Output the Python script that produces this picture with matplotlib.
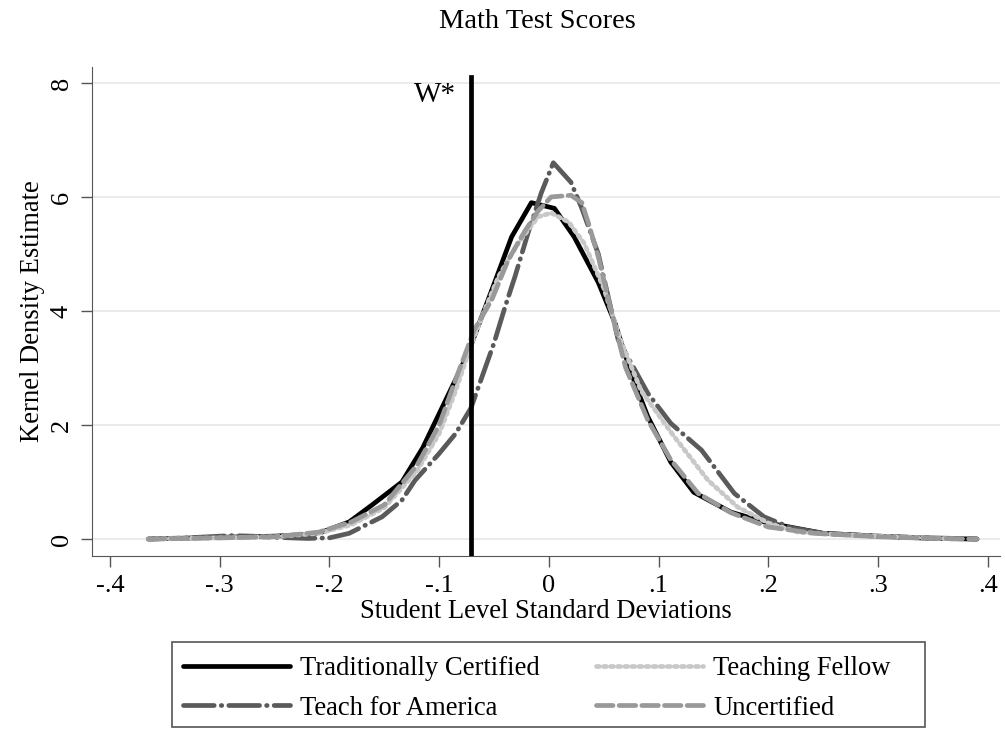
import matplotlib
matplotlib.use("Agg")
import matplotlib.pyplot as plt
from matplotlib.patches import Rectangle
import numpy as np

plt.rcParams['font.family'] = ['Liberation Serif', 'DejaVu Serif']

# Traditionally Certified
x_tc = [-0.365, -0.3, -0.25, -0.22, -0.207, -0.182, -0.161, -0.134, -0.115, -0.1, -0.085, -0.073,
        -0.052, -0.034, -0.016, 0.005, 0.023, 0.045, 0.06, 0.07, 0.08, 0.09, 0.111, 0.132, 0.166,
        0.2, 0.25, 0.3, 0.35, 0.39]
y_tc = [0.0, 0.03, 0.05, 0.08, 0.12, 0.3, 0.6, 1.0, 1.6, 2.2, 2.8, 3.3,
        4.37, 5.3, 5.9, 5.8, 5.3, 4.5, 3.8, 3.2, 2.65, 2.15, 1.35, 0.82, 0.47,
        0.28, 0.1, 0.05, 0.01, 0.0]

# Teach for America
x_tfa = [-0.365, -0.33, -0.3, -0.29, -0.27, -0.25, -0.22, -0.2, -0.182, -0.152, -0.134, -0.122,
         -0.1, -0.085, -0.071, -0.05, -0.04, -0.031, -0.019, -0.007, 0.004, 0.02, 0.03, 0.045,
         0.063, 0.09, 0.111, 0.139, 0.169, 0.196, 0.22, 0.25, 0.3, 0.35, 0.39]
y_tfa = [0.0, 0.02, 0.05, 0.06, 0.05, 0.03, 0.01, 0.02, 0.1, 0.39, 0.68, 1.03,
         1.5, 1.85, 2.3, 3.44, 4.07, 4.6, 5.37, 6.07, 6.6, 6.26, 5.8, 5.0,
         3.5, 2.56, 2.03, 1.56, 0.8, 0.39, 0.2, 0.1, 0.05, 0.02, 0.0]

# Teaching Fellow
x_tf = [-0.365, -0.3, -0.25, -0.21, -0.18, -0.15, -0.12, -0.1, -0.085, -0.071, -0.061, -0.046,
        -0.028, -0.01, 0.002, 0.018, 0.032, 0.05, 0.065, 0.084, 0.114, 0.145, 0.172, 0.2,
        0.227, 0.26, 0.3, 0.34, 0.37]
y_tf = [0.0, 0.02, 0.04, 0.1, 0.25, 0.55, 1.2, 1.85, 2.6, 3.4, 3.9, 4.6,
        5.19, 5.65, 5.72, 5.56, 5.19, 4.4, 3.5, 2.6, 1.8, 1.03, 0.56, 0.28,
        0.12, 0.08, 0.05, 0.02, 0.0]

# Uncertified
x_un = [-0.365, -0.3, -0.25, -0.21, -0.18, -0.15, -0.12, -0.1, -0.085, -0.068, -0.052, -0.037,
        -0.022, -0.01, 0.002, 0.02, 0.03, 0.036, 0.045, 0.058, 0.07, 0.09, 0.111, 0.136,
        0.166, 0.2, 0.242, 0.3, 0.35, 0.39]
y_un = [0.0, 0.02, 0.04, 0.12, 0.3, 0.6, 1.3, 2.0, 2.8, 3.67, 4.2, 4.9,
        5.4, 5.75, 6.0, 6.03, 5.9, 5.54, 4.95, 3.9, 3.0, 2.09, 1.39, 0.8,
        0.46, 0.21, 0.1, 0.04, 0.01, 0.0]

w_star = -0.0714

xticks = [-0.4, -0.3, -0.2, -0.1, 0, 0.1, 0.2, 0.3, 0.4]
xtick_labels = ["-.4", "-.3", "-.2", "-.1", "0", ".1", ".2", ".3", ".4"]
yticks = [0, 2, 4, 6, 8]

fig = plt.figure(figsize=(10.05, 7.29), dpi=100)
ax = fig.add_axes([0.0915, 0.2373, 0.9035, 0.6708])

ax.plot(x_tc, y_tc, color="black", lw=3.4, solid_capstyle="round",
        label="Traditionally Certified", zorder=3)
ax.plot(x_tfa, y_tfa, color="#5a5a5a", lw=3.4, dashes=(6.5, 1.5, 0.1, 1.5), dash_capstyle="round",
        label="Teach for America", zorder=4)
ax.plot(x_tf, y_tf, color="#c8c8c8", lw=3.4, dashes=(0.6, 0.9), dash_capstyle="round",
        label="Teaching Fellow", zorder=5)
ax.plot(x_un, y_un, color="#999999", lw=3.4, dashes=(3.5, 1.3), dash_capstyle="round",
        label="Uncertified", zorder=6)

ax.axvline(w_star, ymin=0, ymax=(8.1 + 0.298) / (8.28 + 0.298), color="black", lw=3.4, zorder=7)
ax.text(w_star - 0.013, 7.79, "W*", ha="right", va="center", fontsize=21)

ax.set_xlim(-0.4164, 0.411)
ax.set_ylim(-0.298, 8.28)
ax.set_xticks(xticks)
ax.set_xticklabels(xtick_labels)
ax.set_yticks(yticks)
ax.tick_params(axis="y", labelrotation=90)
for lab in ax.get_yticklabels():
    lab.set_va("center")
ax.tick_params(length=8, width=1, color="#555555", labelsize=19, pad=6)
ax.grid(axis="y", color="#ebebeb", lw=1.5)
ax.set_axisbelow(True)
for s in ["top", "right"]:
    ax.spines[s].set_visible(False)
for s in ["left", "bottom"]:
    ax.spines[s].set_color("#555555")

ax.set_xlabel("Student Level Standard Deviations", fontsize=19.2, labelpad=1)
ax.set_ylabel("Kernel Density Estimate", fontsize=19.2, labelpad=4)
fig.text(0.535, 0.970, "Math Test Scores", ha="center", va="center", fontsize=20.5)

# legend frame drawn separately, Stata-style with extra room on the right
fig.patches.append(Rectangle((172 / 1005, 1 - 727 / 729), (925 - 172) / 1005, (727 - 642) / 729,
                             transform=fig.transFigure, fill=False, edgecolor="#555555", lw=1.2))
handles, labels = ax.get_legend_handles_labels()
leg = fig.legend(handles, labels, ncol=2, loc="upper left", bbox_to_anchor=(183 / 1005, 1 - 656 / 729),
                 fontsize=19.2, handlelength=4.0, columnspacing=2.1, labelspacing=0.55,
                 handletextpad=0.4, frameon=False, borderpad=0, borderaxespad=0)

fig.savefig("out.png", dpi=100)
